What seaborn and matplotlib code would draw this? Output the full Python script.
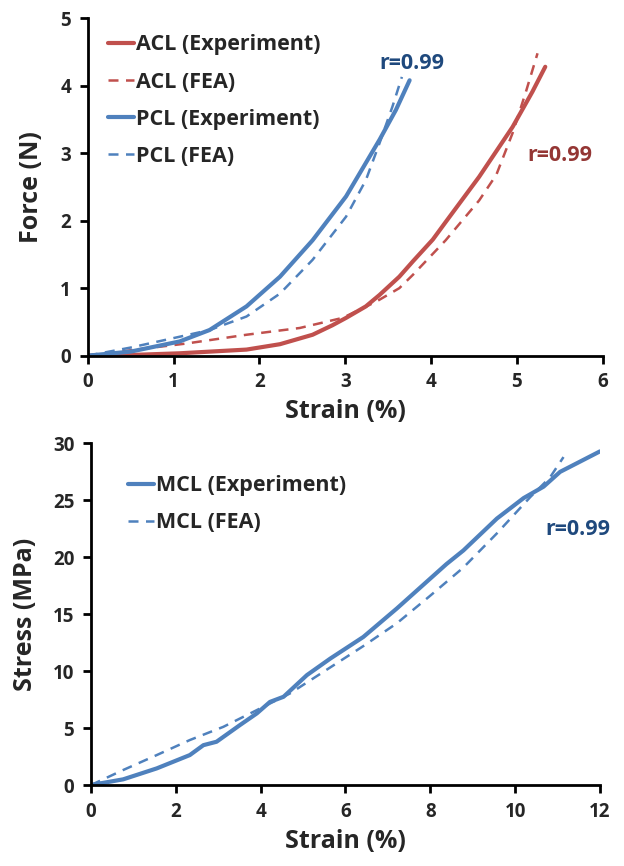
import numpy as np
import pandas as pd
import matplotlib
matplotlib.use('Agg')
import matplotlib.pyplot as plt
import seaborn as sns

# top panel: force vs strain
acl_exp_x = [0, 0.5, 1.07, 1.85, 2.24, 2.62, 2.85, 3.01, 3.24, 3.40, 3.63, 3.79, 4.02, 4.17, 4.56, 4.95, 5.18, 5.33]
acl_exp_y = [0, 0.01, 0.035, 0.09, 0.17, 0.31, 0.45, 0.56, 0.73, 0.90, 1.17, 1.40, 1.72, 1.98, 2.65, 3.39, 3.91, 4.28]
acl_fea_x = [0, 0.5, 1.15, 1.85, 2.47, 2.97, 3.36, 3.63, 3.79, 4.17, 4.56, 4.76, 4.95, 5.10, 5.24]
acl_fea_y = [0, 0.08, 0.18, 0.31, 0.41, 0.56, 0.80, 1.00, 1.20, 1.71, 2.30, 2.68, 3.30, 3.89, 4.48]
pcl_exp_x = [0, 0.5, 1.07, 1.42, 1.85, 2.24, 2.62, 3.01, 3.40, 3.59, 3.75]
pcl_exp_y = [0, 0.06, 0.21, 0.38, 0.73, 1.17, 1.71, 2.36, 3.20, 3.64, 4.08]
pcl_fea_x = [0, 0.5, 1.07, 1.42, 1.85, 2.24, 2.62, 3.01, 3.24, 3.40, 3.55, 3.66]
pcl_fea_y = [0, 0.12, 0.28, 0.38, 0.58, 0.92, 1.42, 2.06, 2.60, 3.15, 3.69, 4.13]

# bottom panel: stress vs strain
mcl_exp_x = [0, 0.76, 1.55, 2.33, 2.65, 2.96, 3.51, 3.91, 4.22, 4.54, 5.09, 5.64,
             6.42, 7.21, 7.99, 8.38, 8.78, 9.57, 10.2, 10.67, 11.06, 12.0]
mcl_exp_y = [0, 0.5, 1.46, 2.63, 3.5, 3.8, 5.26, 6.29, 7.3, 7.75, 9.65, 11.1,
             13.0, 15.5, 18.1, 19.4, 20.6, 23.4, 25.2, 26.2, 27.5, 29.3]
mcl_fea_x = [0, 0.76, 1.55, 2.33, 3.12, 3.91, 4.69, 5.48, 6.42, 7.21, 7.99, 8.78, 9.57, 10.36, 10.82, 11.14]
mcl_fea_y = [0, 1.32, 2.63, 3.95, 5.11, 6.58, 8.04, 9.94, 12.2, 14.2, 16.6, 19.1, 22.1, 25.3, 27.0, 28.8]

red = '#C0504D'
blue = '#4F81BD'
red_txt = '#943634'
blue_txt = '#1F497D'

sns.set_style('ticks')
plt.rcParams['font.family'] = ['Open Sans', 'DejaVu Sans']
plt.rcParams['font.weight'] = 'bold'

fig = plt.figure(figsize=(6.24, 8.66), dpi=100)
ax1 = fig.add_axes([0.1405, 0.5893, 0.8255, 0.3897])
ax2 = fig.add_axes([0.1458, 0.0935, 0.8157, 0.3945])

dash = (4, 3)
sns.lineplot(x=acl_exp_x, y=acl_exp_y, sort=False, color=red, linewidth=3, ax=ax1, label='ACL (Experiment)')
sns.lineplot(x=acl_fea_x, y=acl_fea_y, sort=False, color=red, linewidth=1.8, ax=ax1, label='ACL (FEA)')
sns.lineplot(x=pcl_exp_x, y=pcl_exp_y, sort=False, color=blue, linewidth=3, ax=ax1, label='PCL (Experiment)')
sns.lineplot(x=pcl_fea_x, y=pcl_fea_y, sort=False, color=blue, linewidth=1.8, ax=ax1, label='PCL (FEA)')
ax1.lines[1].set_dashes(dash)
ax1.lines[3].set_dashes(dash)

sns.lineplot(x=mcl_exp_x, y=mcl_exp_y, sort=False, color=blue, linewidth=3, ax=ax2, label='MCL (Experiment)')
sns.lineplot(x=mcl_fea_x, y=mcl_fea_y, sort=False, color=blue, linewidth=1.8, ax=ax2, label='MCL (FEA)')
ax2.lines[1].set_dashes(dash)

for ax, xlim, ylim, xt, yt, ylab, ypad in [
    (ax1, (0, 6), (0, 5), range(0, 7), range(0, 6), 'Force (N)', 12),
    (ax2, (0, 12), (0, 30), range(0, 13, 2), range(0, 31, 5), 'Stress (MPa)', 11),
]:
    ax.set_xlim(*xlim)
    ax.set_ylim(*ylim)
    ax.set_xticks(list(xt))
    ax.set_yticks(list(yt))
    ax.tick_params(axis='both', labelsize=13.5, width=2, length=6, color='black', pad=6)
    for lab in ax.get_xticklabels() + ax.get_yticklabels():
        lab.set_fontweight('bold')
    for s in ['left', 'bottom']:
        ax.spines[s].set_linewidth(2)
        ax.spines[s].set_color('black')
    sns.despine(ax=ax)
    ax.set_xlabel('Strain (%)', fontsize=18, fontweight='bold', labelpad=5)
    ax.set_ylabel(ylab, fontsize=18, fontweight='bold', labelpad=ypad)
    ax.margins(0)

leg1 = ax1.legend(loc='upper left', bbox_to_anchor=(0.039, 0.952), frameon=False, fontsize=15.5,
                  handlelength=1.2, handletextpad=0.1, labelspacing=0.75, borderaxespad=0, borderpad=0)
leg2 = ax2.legend(loc='upper left', bbox_to_anchor=(0.073, 0.907), frameon=False, fontsize=15.5,
                  handlelength=1.2, handletextpad=0.1, labelspacing=0.75, borderaxespad=0, borderpad=0)
for leg in (leg1, leg2):
    for t in leg.get_texts():
        t.set_fontweight('bold')

ax1.text(3.78, 4.33, 'r=0.99', color=blue_txt, fontsize=15.5, fontweight='bold', ha='center', va='center')
ax1.text(5.50, 2.97, 'r=0.99', color=red_txt, fontsize=15.5, fontweight='bold', ha='center', va='center')
ax2.text(11.49, 22.4, 'r=0.99', color=blue_txt, fontsize=15.5, fontweight='bold', ha='center', va='center')

fig.savefig('out.png', dpi=100)
